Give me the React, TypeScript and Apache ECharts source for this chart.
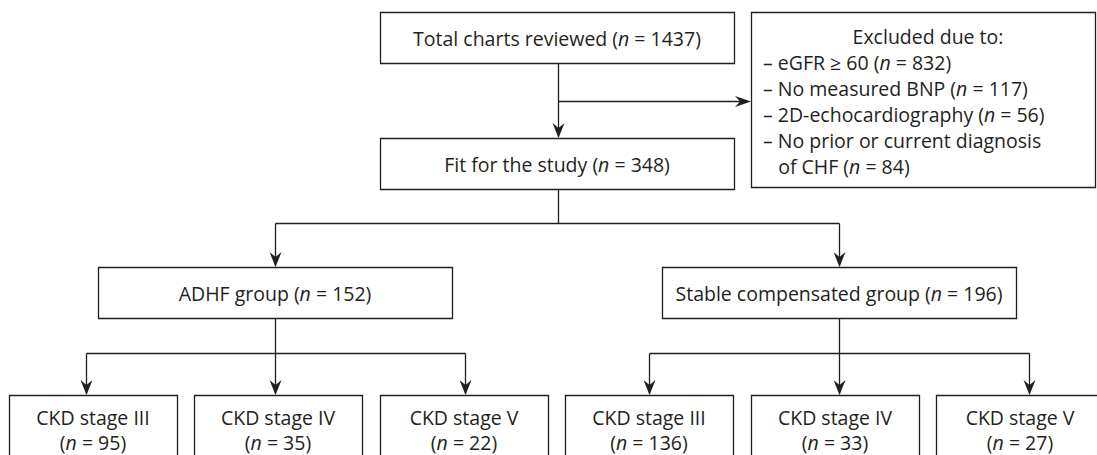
import React, { useEffect, useRef } from "react";
import * as echarts from "echarts";

// ---- data ----
const totalLabel = "Total charts reviewed";
const totalCount = 1437;
const fitLabel = "Fit for the study";
const fitCount = 348;
const exclusionTitle = "Excluded due to:";
const exclusionReasons = ["eGFR ≥ 60", "No measured BNP", "2D-echocardiography", "No prior or current diagnosis", "of CHF"];
const exclusionCounts = [832, 117, 56, null, 84];
const groupLabels = ["ADHF group", "Stable compensated group"];
const groupCounts = [152, 196];
const stageLabels = ["CKD stage III", "CKD stage IV", "CKD stage V"];
const adhfStageCounts = [95, 35, 22];
const stableStageCounts = [136, 33, 27];

const INK = "#231f20";
const FONT = "Open Sans";
const FS = 19.5;
const LH = 21;

const nText = (label: string, count: number | null) =>
  count === null ? `{t|${label}}` : `{t|${label} (}{i|n}{t| = ${count})}`;

const rich = {
  t: { fontFamily: FONT, fontSize: FS, lineHeight: LH, fill: INK, color: INK },
  i: { fontFamily: FONT, fontSize: FS, lineHeight: LH, fontStyle: "italic", fill: INK, color: INK },
};

function rect(x: number, y: number, w: number, h: number) {
  return {
    type: "rect",
    shape: { x: x + 0.5, y: y + 0.5, width: w, height: h },
    style: { fill: "#fff", stroke: INK, lineWidth: 1.3 },
  };
}
function line(x1: number, y1: number, x2: number, y2: number) {
  return {
    type: "line",
    shape: { x1: x1 + 0.5, y1: y1 + 0.5, x2: x2 + 0.5, y2: y2 + 0.5 },
    style: { stroke: INK, lineWidth: 1.3 },
  };
}
function arrowDown(x: number, tipY: number) {
  const cx = x + 0.5;
  return {
    type: "polygon",
    shape: { points: [[cx, tipY], [cx - 6, tipY - 15], [cx, tipY - 10], [cx + 6, tipY - 15]] },
    style: { fill: INK },
  };
}
function arrowRight(tipX: number, y: number) {
  const cy = y + 0.5;
  return {
    type: "polygon",
    shape: { points: [[tipX, cy], [tipX - 16, cy - 5.5], [tipX - 11, cy], [tipX - 16, cy + 5.5]] },
    style: { fill: INK },
  };
}
function text(x: number, y: number, str: string, align = "center") {
  return {
    type: "text",
    x,
    y,
    style: {
      text: str,
      rich,
      fontFamily: FONT,
      fontSize: FS,
      lineHeight: LH,
      fill: INK,
      align,
      textAlign: align,
      verticalAlign: "middle",
      textVerticalAlign: "middle",
    },
  };
}

export default function App() {
  const ref = useRef<HTMLDivElement>(null);
  useEffect(() => {
    document.body.style.margin = "0";
    const chart = echarts.init(ref.current!, null, { renderer: "svg" });
    const els: any[] = [];

    // top boxes
    els.push(rect(380, 12, 354, 51), text(557, 38, nText(totalLabel, totalCount)));
    els.push(rect(380, 138, 354, 51), text(557, 164, nText(fitLabel, fitCount)));
    els.push(line(558, 63, 558, 136), arrowDown(558, 138));

    // exclusion
    els.push(line(558, 101, 745, 101), arrowRight(751, 101));
    els.push(rect(751, 12, 344, 175));
    els.push(text(928, 36, `{t|${exclusionTitle}}`));
    exclusionReasons.forEach((r, k) => {
      const prefix = k === exclusionReasons.length - 1 ? "   " : "– ";
      els.push(text(763, 62 + k * 26.2, `{t|${prefix}}` + nText(r, exclusionCounts[k]), "left"));
    });

    // split into groups
    const groupBoxes = [
      { x: 98, w: 354, arrow: 275 },
      { x: 662, w: 354, arrow: 839 },
    ];
    els.push(line(558, 189, 558, 223), line(275, 223, 839, 223));
    groupBoxes.forEach((g, k) => {
      els.push(line(g.arrow, 223, g.arrow, 265), arrowDown(g.arrow, 267));
      els.push(rect(g.x, 267, g.w, 51), text(g.x + g.w / 2, 293, nText(groupLabels[k], groupCounts[k])));
    });

    // stages
    const stageSets = [
      { counts: adhfStageCounts, boxes: [9, 194, 380], arrows: [86, 275, 465] },
      { counts: stableStageCounts, boxes: [565, 751, 936], arrows: [649, 839, 1029] },
    ];
    stageSets.forEach((s, gi) => {
      const parentX = groupBoxes[gi].arrow;
      els.push(line(parentX, 318, parentX, 353));
      els.push(line(s.arrows[0], 353, s.arrows[2], 353));
      s.counts.forEach((c, k) => {
        const bx = s.boxes[k];
        els.push(line(s.arrows[k], 353, s.arrows[k], 393), arrowDown(s.arrows[k], 395));
        els.push(rect(bx, 395, 168, 80));
        els.push(text(bx + 84, 417, `{t|${stageLabels[k]}}`));
        els.push(text(bx + 84, 442, `{t|(}{i|n}{t| = ${c})}`));
      });
    });

    chart.setOption({
      animation: false,
      backgroundColor: "#fff",
      graphic: { elements: els },
    });
    return () => chart.dispose();
  }, []);
  return <div ref={ref} style={{ width: 1097, height: 455 }} />;
}
